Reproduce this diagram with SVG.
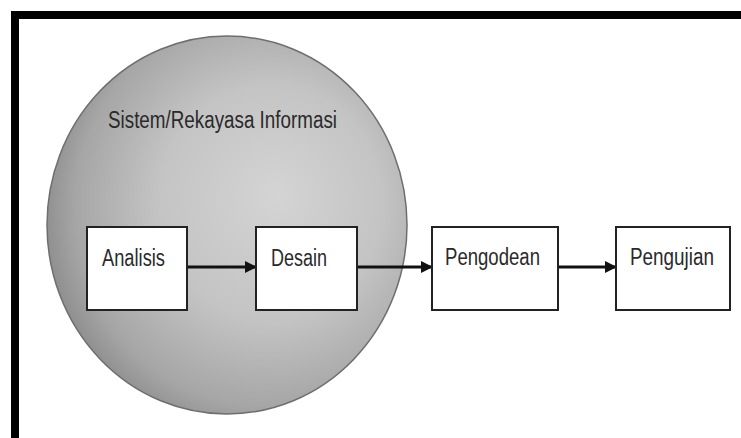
<svg xmlns="http://www.w3.org/2000/svg" width="741" height="438" viewBox="0 0 741 438">
<defs>
<radialGradient id="g" cx="0.6" cy="0.46" r="0.62" fx="0.64" fy="0.42">
<stop offset="0" stop-color="#d4d4d4"/>
<stop offset="0.5" stop-color="#c4c4c4"/>
<stop offset="0.85" stop-color="#a6a6a6"/>
<stop offset="1" stop-color="#8c8c8c"/>
</radialGradient>
<marker id="ah" markerWidth="12" markerHeight="12" refX="11" refY="6" orient="auto" markerUnits="userSpaceOnUse">
<path d="M0,0 L12,6 L0,12 z" fill="#111"/>
</marker>
</defs>
<style>
.box{fill:#fff;stroke:#222;stroke-width:2}
.t{font-family:"Liberation Sans",Arial,sans-serif;font-size:23px;fill:#2a2a2a}
.c{stroke:#111;stroke-width:3;fill:none}
</style>
<rect x="0" y="0" width="741" height="438" fill="#fff"/>
<rect x="15" y="15" width="740" height="440" fill="none" stroke="#000" stroke-width="8"/>
<g id="sistem">
<ellipse cx="227" cy="225" rx="180" ry="189" fill="url(#g)" stroke="#6e6e6e" stroke-width="1.5"/>
<text class="t" x="108" y="128" textLength="229" lengthAdjust="spacingAndGlyphs">Sistem/Rekayasa Informasi</text>
</g>
<g id="connectors">
<line class="c" x1="187" y1="267" x2="256" y2="267" marker-end="url(#ah)"/>
<line class="c" x1="357" y1="267" x2="432" y2="267" marker-end="url(#ah)"/>
<line class="c" x1="558" y1="267" x2="616" y2="267" marker-end="url(#ah)"/>
</g>
<g id="analisis">
<rect class="box" x="87" y="227" width="100" height="83"/>
<text class="t" x="102" y="266" textLength="63" lengthAdjust="spacingAndGlyphs">Analisis</text>
</g>
<g id="desain">
<rect class="box" x="256" y="227" width="101" height="83"/>
<text class="t" x="271" y="266" textLength="56" lengthAdjust="spacingAndGlyphs">Desain</text>
</g>
<g id="pengodean">
<rect class="box" x="432" y="227" width="126" height="83"/>
<text class="t" x="445" y="265" textLength="95" lengthAdjust="spacingAndGlyphs">Pengodean</text>
</g>
<g id="pengujian">
<rect class="box" x="616" y="227" width="114" height="83"/>
<text class="t" x="630" y="265" textLength="84" lengthAdjust="spacingAndGlyphs">Pengujian</text>
</g>
</svg>
